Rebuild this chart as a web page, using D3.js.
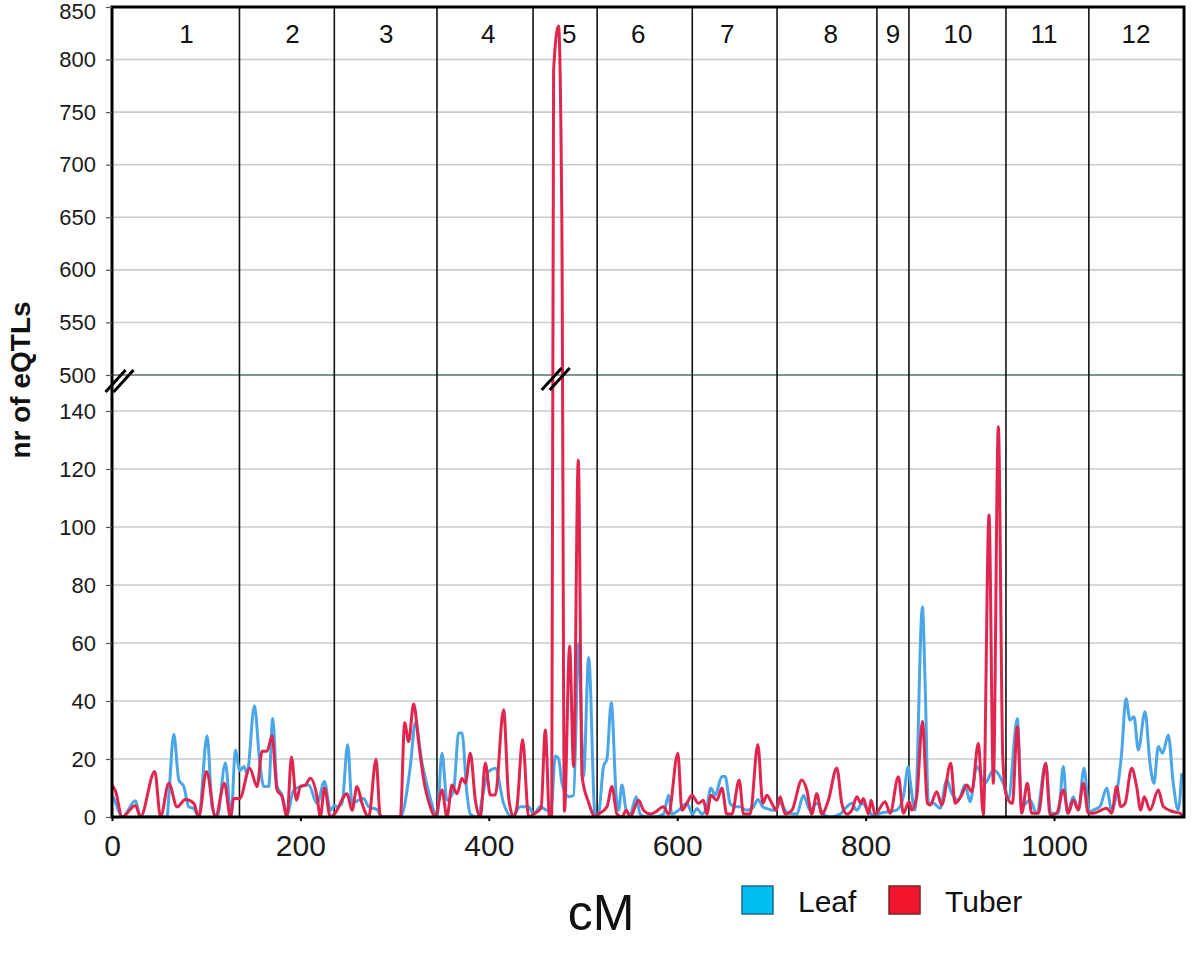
<!DOCTYPE html>
<html><head><meta charset="utf-8">
<script src="https://cdnjs.cloudflare.com/ajax/libs/d3/7.8.5/d3.min.js"></script>
<style>body{margin:0;background:#fff}svg{display:block}text{font-family:"Liberation Sans",Arial,sans-serif}</style>
</head><body><svg id="c" width="1200" height="955"></svg>
<script>
// ---- data ----
const chromosomes = ["1","2","3","4","5","6","7","8","9","10","11","12"];
const chromBoundsCM = [135.3, 236, 345, 447, 515, 616, 706, 812, 846, 949, 1037];
const chromLabelCM = [79, 191.5, 291, 399.5, 485.4, 558.6, 653, 763, 829, 898, 989.4, 1087];
const xTicks = [0, 200, 400, 600, 800, 1000];
const yTicksLow = [0, 20, 40, 60, 80, 100, 120, 140];
const yTicksHigh = [500, 550, 600, 650, 700, 750, 800, 850];
const seriesNames = ["Leaf", "Tuber"];

const leaf = [[1,7],[3.7,5],[10.8,0],[24.9,5.6],[30.2,0],[58.5,0],[60.3,7],[65.6,28.5],[70.9,12.8],[76.2,10.5],[81.5,3.5],[86.8,2.9],[92.1,0],[101,28],[106.3,3.5],[111.6,0],[120.4,18.6],[126.4,0],[131,23],[135.6,16],
[139.9,17.4],[143.4,15],[151.2,38.4],[156.9,18.6],[161.1,10.5],[166.4,10.5],[170.6,34],[175.2,10.5],[180.5,7.6],[185.8,1],[192.9,9.3],[200,10.5],[208.8,11],[217.7,4.7],[225.5,12.2],[231.8,2.3],[236.1,4],
[238.9,3.5],[244.2,4.7],[250.2,25],[254.8,4.7],[261.9,5.8],[267.2,6.4],[272.5,3.5],[281.3,2.6],[286.7,0],[306.1,0],[316.7,17.4],[322,32.5],[329.1,18.6],[336.2,8.7],[341.5,2.3],[345,0],
[350.3,22],[355.6,5.8],[362.7,9.3],[368,29],[371.5,29],[376.8,8],[380.4,1],[387.4,0],[399.8,15.7],[406.9,16.8],[415.7,4.7],[424.6,0],[433.4,3.5],[442.3,3.5],[447.6,1],
[454.6,3.5],[461.7,2.3],[466,2],[470.6,21],[474.1,20],[477.7,11.6],[484.8,7],[490,7.5],[495.4,60],[500.6,14],[506,55],[513,0],
[516.5,1],[521.8,17.4],[525.4,20],[530,39.5],[535.3,7],[537.8,2.3],[541.3,11],[545.9,2.3],[550.1,1],[556.5,7],[560.7,1],[567.8,0],[576.7,0],[585.5,1],[590.8,7.5],[594.4,1],[601.4,2.3],[610.3,4.7],[616.3,1],
[620.9,2.9],[626.2,1],[631.5,3.5],[635.7,10],[640.3,7.5],[647.4,14],[650.9,14],[656.2,4.7],[661.5,3.5],[666.8,3.5],[674,2.3],[681,3.5],[685.6,6],[690.9,3.5],[695.2,2.9],[702.2,2.3],
[709.3,4.7],[716.4,1.7],[727,1],[734,7.5],[741.1,2.3],[748.2,4.7],[755.2,1],[762.3,0],[773,1],[780,3.5],[785.3,4.7],[790.7,2.3],[796,4.7],[803,2.3],[810.1,0],
[815.4,1.3],[833.1,2.4],[840.1,7],[845.4,17.4],
[847.2,12.8],[852.5,2.4],[860.3,72.5],[863.1,47.2],[866.7,4.7],[872,4.7],[879,3],[886.2,12.8],[891.4,8.2],[898.5,5.9],[905.6,11],[910.9,5.3],[918,17.4],[926.8,11.6],[935.6,16.2],[942.7,13.9],[948.7,9.3],
[951.5,5.9],[961.1,34],[965.7,3.6],[974.5,5.9],[981.6,1.3],[991.2,18.5],[996.5,1.3],[1004.6,1.3],[1009.9,17.4],[1014.1,1.3],[1020.5,7],[1025.8,2.4],[1031.8,16.8],[1037.5,1.8],
[1041.7,2.4],[1048.8,3.6],[1055.9,9.9],[1061.2,2.4],[1066.5,8.2],[1071.8,22],[1076.4,40.9],[1080.6,33.4],[1084.9,34.6],[1089.5,23.1],[1096.6,36.3],[1101.9,18.5],[1106.1,11.6],[1110.7,24.3],[1115.3,22],[1121.3,28.3],[1126.6,11.6],[1131.9,2.4],[1135.5,15.1]];

const tuber = [[0,11],[3.7,9],[10.8,0],[24.9,4],[30.2,0],[45.4,15.7],[51.5,0],[60.3,11.6],[69.1,3.5],[78,6],[86.8,4.7],[92.1,0],[100.3,15.7],[109.8,0],[119.4,11.6],[125.7,0],[129.3,6.4],[135.6,6.4],
[146.2,16.8],[154,10.5],[159.3,22.7],[164.6,22.7],[169.9,28],[175.2,9.3],[180.5,7],[185.8,0],[190.5,20.7],[195.8,5.8],[200,10.5],[205.3,11],[210.6,13.4],[217.7,7],[221.2,0],[225.5,10],[231.8,0],[236.1,1],
[249.5,8],[254.8,2.3],[260.1,10.5],[265.4,4.7],[272.5,0],[280.3,19.8],[284.9,0],[306.1,0],[310.7,32.5],[314.9,26],[320.2,39],[325.6,25.6],[330.9,12.8],[337.9,3.5],[343.2,0],
[350.3,9.3],[355.6,0],[360.9,11],[366.2,8],[371.5,13.4],[375.1,11.6],[380.4,22],[385.7,5.8],[391,0],[396.3,18.6],[401.6,7.6],[406.9,7.6],[415.7,37],[421,7],[426.3,0],[429.9,3.5],[435.9,26.7],[442.3,0],[447.6,1],
[455.5,3],[460,30],[464.5,0],[466.8,0],[468.8,790],[474,832],[477.5,650],[480.3,2],[485.8,59],[490,17.4],[495,123],[499,14],[506,5],[513,0],
[516.5,1],[525.4,3.5],[530.7,10.5],[536,1],[541.3,0],[545.9,2.3],[550.1,0],[559,5.8],[564.3,2.3],[571.4,1],[576.7,1.7],[585.5,3.5],[590.8,1],[600.7,22],[605,2.3],[610.3,4.7],[615.6,7.5],
[622.6,4.7],[627.9,5.8],[631.5,1],[635.7,7.5],[642.1,5.8],[647.4,10],[652.7,1],[658,1],[665.8,12.8],[670.4,1],[677.5,1],[685.6,25],[690.9,4.7],[695.2,7.5],[700.5,4.7],[705,2.3],
[709.3,7],[714.6,1],[721.7,2.3],[732.3,12.8],[737.6,9.3],[742.9,1],[748.2,8],[753.5,1],[760.5,5.8],[769.4,16.9],[774.7,4.7],[780,1],[785.3,2.3],[790.7,7],[794.9,4.7],[797.7,6.4],[803,1],[805.8,5.8],[810.1,1],
[820.7,5.3],[826,1.3],[834.8,13.9],[840.1,1.3],[846.2,5.3],
[849,2.4],[854.3,7],[860.3,32.9],[865.6,4.7],[868.4,4.1],[875.5,8.7],[880.8,4.1],[890.4,18.5],[895,4.7],[902,7.6],[907.4,11],[912.7,8.7],[919.7,25.4],[925,0.7],[931,104.1],[935.6,11.6],[940.9,134.6],[945.6,20.8],[948.7,8.2],
[951.5,5.9],[955.8,4.7],[961.1,31.1],[965.7,1.3],[971.7,11.6],[976.3,1.3],[983.4,1.3],[991.2,18.5],[995.8,0.7],[1002.9,1.3],[1009.9,9.3],[1015.2,1.3],[1020.5,5.9],[1025.8,2.4],[1031.1,11.6],[1036.4,1.3],
[1041.7,1.3],[1055.9,3],[1061.2,1.3],[1066.5,10.5],[1070.8,3.6],[1075.4,4.7],[1082.4,16.8],[1087.7,10.5],[1092,2.4],[1095.8,7],[1101.9,2.4],[1110.7,9.3],[1116,3.6],[1126.6,1.8],[1133.7,1.3],[1137,0]];

// ---- layout ----
const svg = d3.select("#c");
const L = 112, R = 1184, T = 7, B = 817, BRK = 375;
const x = d3.scaleLinear().domain([0, 1138]).range([L, R]);
const y = d3.scaleLinear().domain([0, 152.4, 500, 850]).range([B, BRK, BRK, T]);
const colors = {Leaf: "#4aa6e6", Tuber: "#e0264e"};

// grid
const grid = svg.append("g");
yTicksLow.slice(1).concat(yTicksHigh.slice(1, -1)).forEach(v => {
  grid.append("line").attr("x1", L).attr("x2", R).attr("y1", y(v)).attr("y2", y(v))
    .attr("stroke", "#c9cccc").attr("stroke-width", 1.6);
});
grid.append("line").attr("x1", L).attr("x2", R).attr("y1", y(500)).attr("y2", y(500))
  .attr("stroke", "#5e6e6c").attr("stroke-width", 1.6);

// chromosome boundaries
svg.append("g").selectAll("line").data(chromBoundsCM).join("line")
  .attr("x1", d => x(d)).attr("x2", d => x(d)).attr("y1", T).attr("y2", B)
  .attr("stroke", "#111").attr("stroke-width", 1.6);

// chromosome labels
svg.append("g").selectAll("text").data(chromosomes).join("text")
  .attr("x", (d, i) => x(chromLabelCM[i])).attr("y", 43)
  .attr("text-anchor", "middle").attr("font-size", 26).attr("fill", "#111").text(d => d);

// lines
svg.append("clipPath").attr("id", "pc").append("rect").attr("x", L).attr("y", T).attr("width", R - L).attr("height", B - T);
const line = d3.line().x(d => x(d[0])).y(d => y(d[1])).curve(d3.curveMonotoneX);
const lines = svg.append("g").attr("clip-path", "url(#pc)");
[["Leaf", leaf], ["Tuber", tuber]].forEach(([name, data]) => {
  lines.append("path").datum(data).attr("d", line).attr("fill", "none")
    .attr("stroke", colors[name]).attr("stroke-width", 3).attr("stroke-linejoin", "round");
});

// frame
svg.append("rect").attr("x", L).attr("y", T).attr("width", R - L).attr("height", B - T)
  .attr("fill", "none").attr("stroke", "#000").attr("stroke-width", 3);

// y axis
const yAxis = d3.axisLeft(y).tickValues(yTicksLow.concat(yTicksHigh)).tickSize(6).tickPadding(10);
const gy = svg.append("g").attr("transform", `translate(${L},0)`).call(yAxis);
gy.select(".domain").remove();
gy.selectAll("line").attr("stroke", "#555").attr("stroke-width", 1.2);
gy.selectAll("text").attr("font-size", 22).attr("fill", "#1a1a1a").attr("font-family", "'Liberation Sans',Arial,sans-serif");
gy.selectAll(".tick").filter(d => d === 850).select("text").attr("dy", "0.5em");

// x axis
const xAxis = d3.axisBottom(x).tickValues(xTicks).tickFormat(d3.format("d")).tickSize(4).tickPadding(14);
const gx = svg.append("g").attr("transform", `translate(0,${B})`).call(xAxis);
gx.select(".domain").remove();
gx.selectAll("line").attr("stroke", "#000").attr("stroke-width", 2);
gx.selectAll("text").attr("font-size", 30).attr("fill", "#1a1a1a").attr("font-family", "'Liberation Sans',Arial,sans-serif");

// axis break marks
function brk(cx, cy) {
  const g = svg.append("g");
  [-4, 4].forEach(o => {
    g.append("line").attr("x1", cx - 10 + o).attr("y1", cy + 11).attr("x2", cx + 10 + o).attr("y2", cy - 11)
      .attr("stroke", "#000").attr("stroke-width", 3);
  });
}
brk(x(8), BRK + 6);
brk(x(471), BRK + 4);

// axis titles
svg.append("text").attr("x", 601).attr("y", 930).attr("text-anchor", "middle")
  .attr("font-size", 50).attr("fill", "#111").text("cM");
svg.append("text").attr("transform", "translate(30,380) rotate(-90)").attr("text-anchor", "middle")
  .attr("font-size", 28).attr("font-weight", "bold").attr("fill", "#111").text("nr of eQTLs");

// legend
const legend = svg.append("g");
const legFill = {Leaf: "#00c0f0", Tuber: "#f2142c"};
const legStroke = {Leaf: "#1b6a86", Tuber: "#7a2424"};
const legX = [742, 889];
seriesNames.forEach((n, i) => {
  legend.append("rect").attr("x", legX[i]).attr("y", 886).attr("width", 31).attr("height", 28)
    .attr("fill", legFill[n]).attr("stroke", legStroke[n]).attr("stroke-width", 1.5);
  legend.append("text").attr("x", legX[i] + 56).attr("y", 912).attr("font-size", 30).attr("fill", "#111").text(n);
});
</script></body></html>
